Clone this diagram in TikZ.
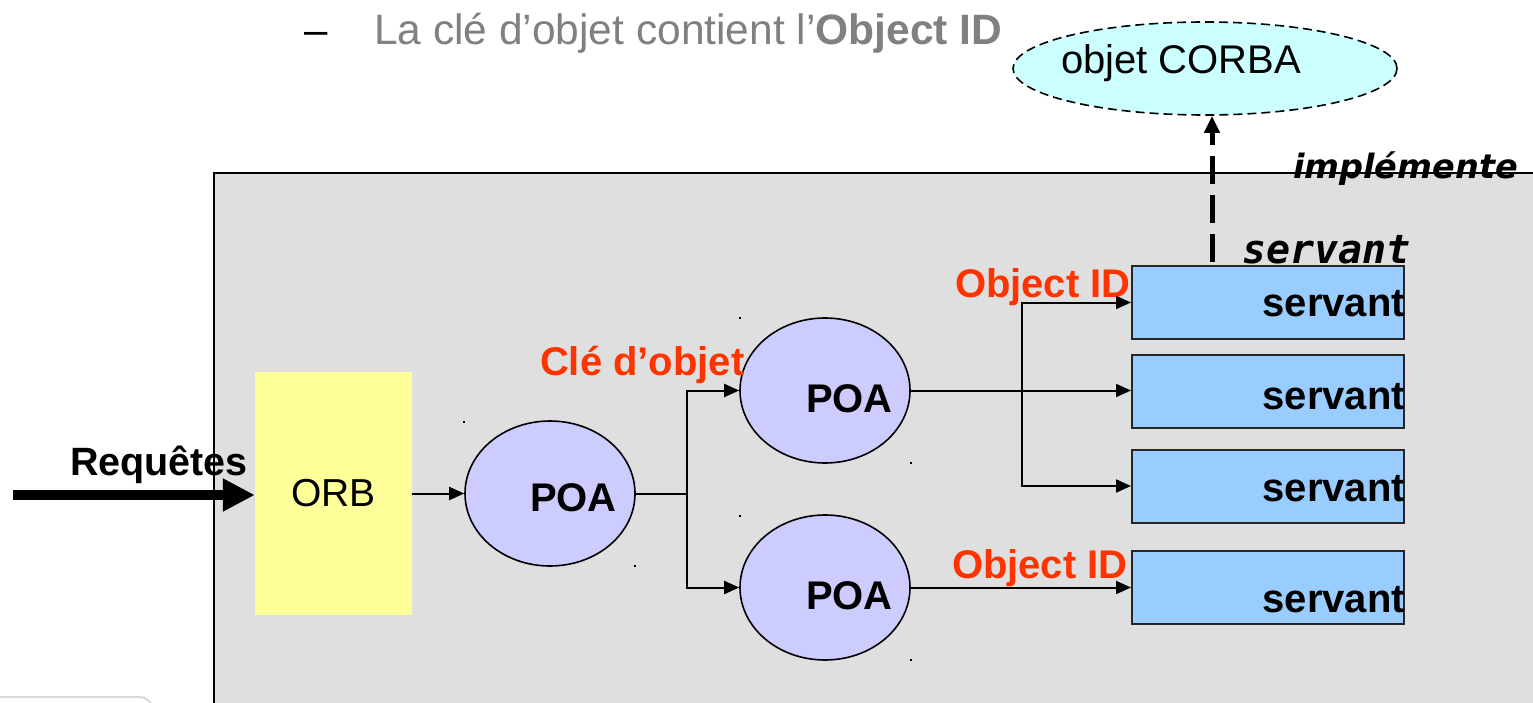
\documentclass[tikz,border=0pt]{standalone}
\usepackage{fontspec}
\setmainfont{Liberation Sans}
\newfontfamily\djv{DejaVu Sans}
\newfontfamily\djvmono{DejaVu Sans Mono}
\usetikzlibrary{arrows.meta,shapes.geometric,calc}
\definecolor{boxgray}{HTML}{DFDFDF}
\definecolor{orbyellow}{HTML}{FFFF99}
\definecolor{poablue}{HTML}{CCCCFF}
\definecolor{servblue}{HTML}{99CCFF}
\definecolor{corbacyan}{HTML}{CCFFFF}
\definecolor{keyred}{HTML}{FF3300}
\definecolor{headgray}{HTML}{808080}
\tikzset{
  txt/.style={inner sep=0pt, outer sep=0pt},
  big/.style={font=\fontsize{40}{44}\selectfont},
  bigb/.style={font=\fontsize{40}{44}\selectfont\bfseries},
  poanode/.style={ellipse, draw=black, line width=1.6pt, fill=poablue, minimum width=170pt, minimum height=145pt, inner sep=0pt},
  servbox/.style={rectangle, draw=black!85, line width=2pt, fill=servblue, minimum width=272pt, minimum height=73pt, inner sep=0pt},
  conn/.style={line width=2pt, -{Triangle[length=15pt,width=13pt]}},
  plainline/.style={line width=2pt},
  handle/.style={fill=black, inner sep=0pt, minimum size=2.5pt, rectangle}
}
\begin{document}
\begin{tikzpicture}[x=1pt,y=-1pt]
\useasboundingbox (0,0) rectangle (1533,703);
% background box
\fill[boxgray] (214,173) rectangle (1545,715);
\draw[line width=1.5pt] (1545,173) -- (214,173) -- (214,715);
% bottom-left faint frame
\draw[black!15, line width=2pt, rounded corners=12pt] (-10,697) -- (152,697) -- (152,730);
% header
\node[txt, anchor=base west, font=\fontsize{42}{46}\selectfont] (dash) at (304,45) {–};
\node[txt, anchor=base west, font=\fontsize{42.5}{46}\selectfont, text=headgray] (head) at (374,45) {La clé d’objet contient l’\textbf{Object ID}};
% CORBA object
\node[ellipse, draw=black, dash pattern=on 9pt off 5pt, line width=1.6pt, fill=corbacyan, minimum width=384pt, minimum height=93pt, inner sep=0pt] (corba) at (1205,68.5) {};
\node[txt, anchor=base west, font=\fontsize{40}{44}\selectfont] (corbaT) at (1061,74) {objet CORBA};
% ORB
\node[rectangle, fill=orbyellow, minimum width=157pt, minimum height=243pt, inner sep=0pt, font=\fontsize{39}{44}\selectfont] (orb) at (333.5,493.5) {ORB};
% POAs
\node[poanode] (poa1) at (550,493.5) {};
\node[poanode] (poa2) at (825,390.5) {};
\node[poanode] (poa3) at (825,587.5) {};
\node[txt, anchor=base west, bigb] (poa1T) at (530,511) {POA};
\node[txt, anchor=base west, bigb] (poa2T) at (806,412) {POA};
\node[txt, anchor=base west, bigb] (poa3T) at (806,609) {POA};
% servants
\node[servbox] (s1) at (1268,302.5) {};
\node[servbox] (s2) at (1268,391) {};
\node[servbox] (s3) at (1268,486) {};
\node[servbox] (s4) at (1268,587.5) {};
\node[txt, anchor=base east, bigb] (s1T) at (1405,316) {servant};
\node[txt, anchor=base east, bigb] (s2T) at (1405,409) {servant};
\node[txt, anchor=base east, bigb] (s3T) at (1405,501) {servant};
\node[txt, anchor=base east, bigb] (s4T) at (1405,612) {servant};
% labels
\node[txt, anchor=base west, bigb, text=keyred] (cle) at (540,375) {Clé d’objet};
\node[txt, anchor=base west, bigb, text=keyred] (oid1) at (955,297) {Object ID};
\node[txt, anchor=base west, bigb, text=keyred] (oid2) at (952,578) {Object ID};
\node[txt, anchor=base west, font=\fontsize{39.5}{44}\selectfont\bfseries] (req) at (70,475) {Requêtes};
\node[txt, anchor=base west, font=\djv\fontsize{33.5}{40}\selectfont\bfseries\itshape] (impl) at (1293,179) {implémente};
\node[txt, anchor=base west, font=\djvmono\fontsize{40}{44}\selectfont\bfseries\itshape] (servL) at (1242,263) {servant};
% requests arrow
\coordinate (reqstart) at (13,495);
\draw[line width=10pt, -{Triangle[length=32pt,width=31pt]}] (reqstart) -- (reqstart -| orb.west);
% connectors
\draw[conn] (orb.east) -- (poa1.west);
\coordinate (fork1) at (687,493.5);
\draw[plainline] (poa1.east) -- (fork1);
\draw[conn] (fork1) |- (poa2.west);
\draw[conn] (fork1) |- (poa3.west);
\coordinate (fork2) at (1022,390.5);
\draw[conn] (poa2.east) -- (poa2.east -| s2.west);
\draw[conn] (fork2) |- (s1.west);
\draw[conn] (fork2) |- (s3.west);
\draw[conn] (poa3.east) -- (poa3.east -| s4.west);
% implements arrow
\coordinate (implstart) at (1212,262);
\draw[line width=5pt, dash pattern=on 28pt off 11pt, -{Triangle[length=17pt,width=15pt]}] (implstart) -- (implstart |- corba.south);
% selection handles
\node[handle] (h1) at (740,318) {};
\node[handle] (h2) at (464,422) {};
\node[handle] (h3) at (635,566) {};
\node[handle] (h4) at (911,463) {};
\node[handle] (h5) at (740,516) {};
\node[handle] (h6) at (911,660) {};
\end{tikzpicture}
\end{document}
